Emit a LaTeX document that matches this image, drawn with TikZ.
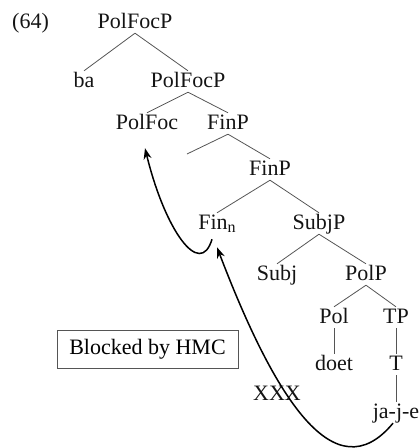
\documentclass[tikz,border=0pt]{standalone}
\usepackage{fontspec}
\setmainfont{Liberation Serif}
\usepackage{tikz}
\usetikzlibrary{arrows.meta, positioning, calc}
\definecolor{mydark}{RGB}{20,20,20}
\definecolor{mygray}{RGB}{85,85,85}
\tikzset{
  cat/.style={inner sep=0pt, text height=16pt, text depth=5pt, anchor=base,
    font=\fontsize{22}{26}\selectfont, text=mydark},
  branch/.style={draw=mygray, line width=0.8pt},
  movearrow/.style={-{Stealth[length=11pt,width=8pt]}, line width=1.5pt, color=black},
  hmcbox/.style={rectangle, draw=mygray, line width=1pt, minimum width=181pt,
    minimum height=38pt, inner sep=0pt, font=\fontsize{22}{26}\selectfont}
}

\begin{document}
\begin{tikzpicture}[x=1pt, y=-1pt]
  \useasboundingbox (0,0) rectangle (420,448);

  % example number
  \node[cat, anchor=base west] (exnum) at (12,28) {(64)};

  % upper part of the tree
  \node[cat] (polfocp) at (135,28) {PolFocP};
  \node[cat] (ba) at (84,87) {ba};
  \node[cat] (polfocpb) at (188,87) {PolFocP};
  \node[cat] (polfoc) at (147,129) {PolFoc};
  \node[cat] (finp) at (228,129) {FinP};
  \coordinate (finspec) at (187,154);
  \node[cat] (finpb) at (270,175) {FinP};
  \node[cat] (fin) at (217,229) {Fin{\fontsize{16}{16}\selectfont\raisebox{-3pt}{n}}};
  \node[cat] (subjp) at (319,229) {SubjP};

  % lower part of the tree
  \node[cat] (subj) at (277,280) {Subj};
  \node[cat] (polp) at (366,280) {PolP};
  \node[cat] (pol) at (334,323) {Pol};
  \node[cat] (tp) at (396,323) {TP};
  \node[cat] (doet) at (334,370) {doet};
  \node[cat] (t) at (396,370) {T};
  \node[cat] (jaje) at (396,418) {ja-j-e};

  % label and marker
  \node[hmcbox] (hmc) at (147.5,349) {Blocked by HMC};
  \node[cat] (xxx) at (277,400) {XXX};

  % branches
  \draw[branch] (polfocp.south) -- (ba.north);
  \draw[branch] (polfocp.south) -- (polfocpb.north);
  \draw[branch] (polfocpb.south) -- (polfoc.north);
  \draw[branch] (polfocpb.south) -- (finp.north);
  \draw[branch] (finp.south) -- (finspec);
  \draw[branch] (finp.south) -- (finpb.north);
  \draw[branch] (finpb.south) -- (fin.north);
  \draw[branch] (finpb.south) -- (subjp.north);
  \draw[branch] (subjp.south) -- (subj.north);
  \draw[branch] (subjp.south) -- (polp.north);
  \draw[branch] (polp.south) -- (pol.north);
  \draw[branch] (polp.south) -- (tp.north);
  \draw[branch] (pol.south) -- (doet.north);
  \draw[branch] (tp.south) -- (t.north);
  \draw[branch] (t.south) -- (jaje.north);

  % head movement
  \draw[movearrow] ([xshift=-5pt,yshift=-5pt]fin.south)
    .. controls +(-12,40) and +(20,82) .. ([xshift=-2pt,yshift=-14pt]polfoc.south);
  \draw[movearrow] ([xshift=-3pt]jaje.south)
    .. controls +(-58,70) and +(58,152) .. ([yshift=-13pt]fin.south);
\end{tikzpicture}
\end{document}
